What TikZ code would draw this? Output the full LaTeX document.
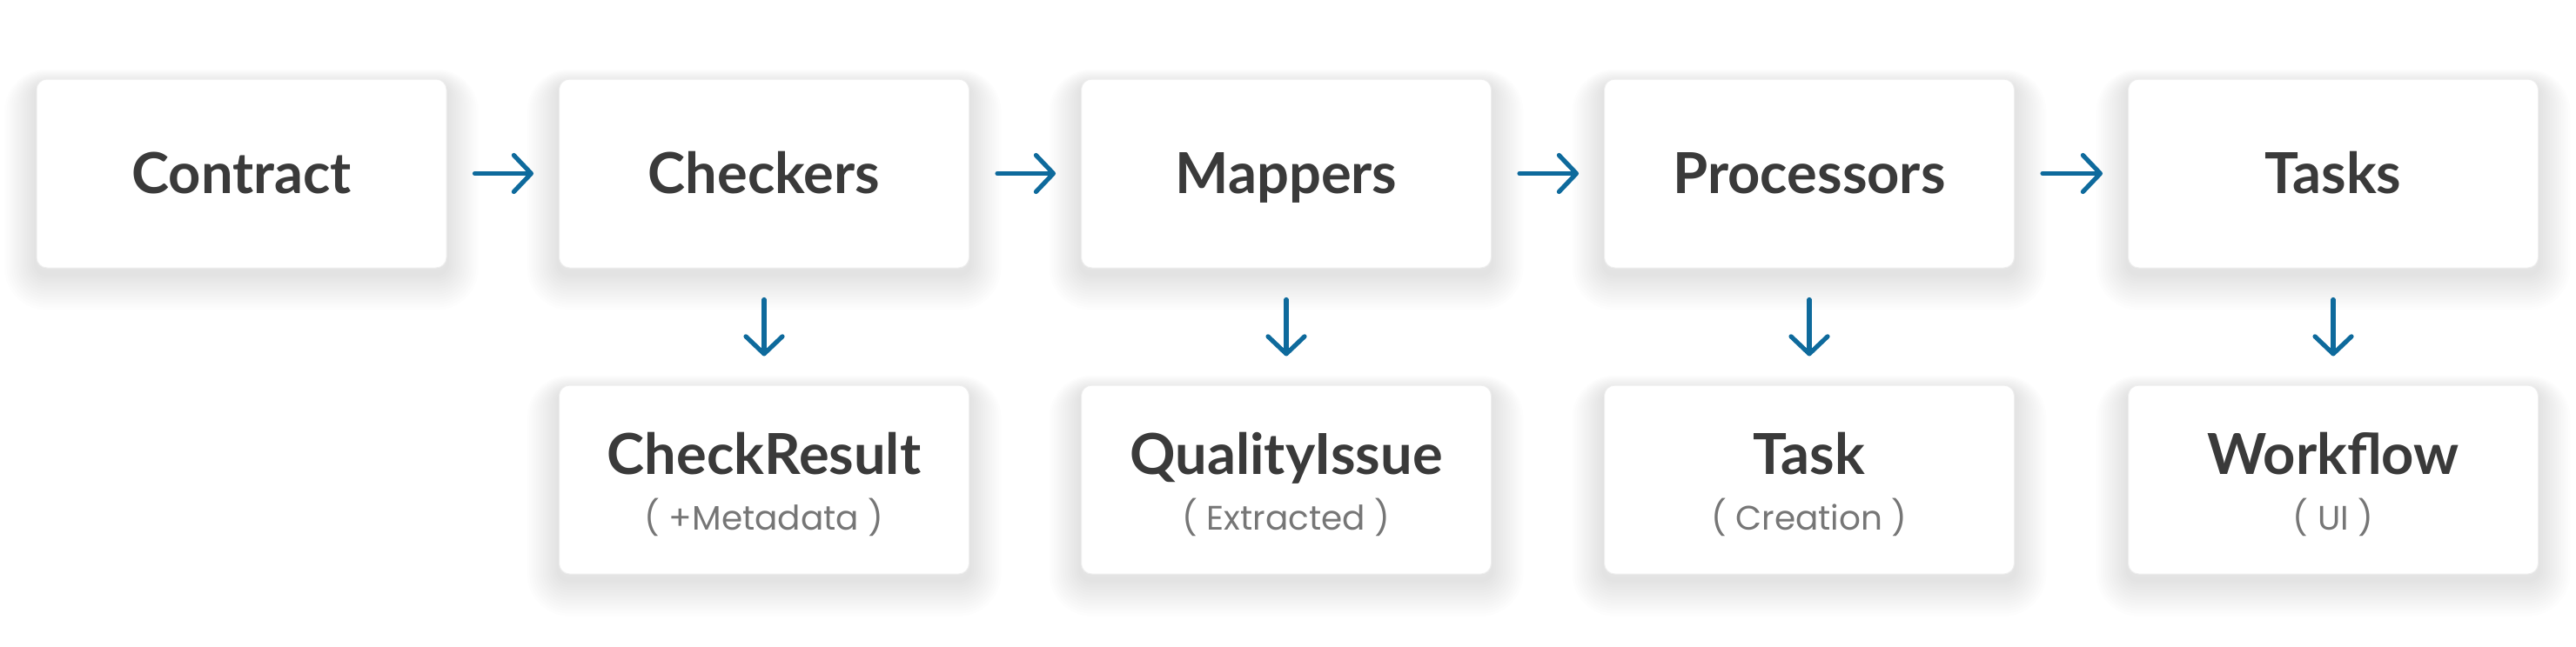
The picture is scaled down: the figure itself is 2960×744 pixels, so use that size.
\documentclass[tikz,border=0pt]{standalone}
\usepackage{fontspec}
\setmainfont{Lato}
\newfontfamily\subfont{Poppins}
\usetikzlibrary{arrows.meta,backgrounds}
\definecolor{arrowblue}{HTML}{0E6A9C}
\definecolor{titlegray}{HTML}{3A3A3A}
\definecolor{subgray}{HTML}{767676}
\definecolor{edgegray}{HTML}{EEEEEE}
\definecolor{bottomgray}{HTML}{E4E4E4}
\tikzset{
  card/.style={rectangle, rounded corners=6pt, fill=white, draw=edgegray, line width=0.5pt,
    minimum width=235.5pt, minimum height=108.5pt, inner sep=0pt},
  cardbase/.style={fill=bottomgray, rounded corners=6pt},
  shadowlayer/.style={fill=black, opacity=0.008},
  title/.style={text=titlegray, font=\fontsize{32.5}{36}\selectfont\bfseries, anchor=base, inner sep=0pt},
  sub/.style={text=subgray, font=\subfont\fontsize{19.5}{22}\selectfont, anchor=base, inner sep=0pt},
  flow/.style={draw=arrowblue, line width=2.6pt, line cap=round,
    -{Straight Barb[length=10pt,width=21pt,round]}},
  hflow/.style={flow, shorten <=16pt, shorten >=14.5pt},
  vflow/.style={flow, shorten <=18pt, shorten >=16.5pt},
}
\begin{document}
\begin{tikzpicture}[x=0.5pt,y=-0.5pt]
\useasboundingbox (0,0) rectangle (2960,744);
% top row
\node[card] (contract) at (277.5,199.5) {};
\node[card] (checkers) at (878,199.5) {};
\node[card] (mappers) at (1478,199.5) {};
\node[card] (processors) at (2079,199.5) {};
\node[card] (tasks) at (2681,199.5) {};
% bottom row
\node[card] (checkresult) at (878,551.5) {};
\node[card] (qualityissue) at (1478,551.5) {};
\node[card] (task) at (2079,551.5) {};
\node[card] (workflow) at (2681,551.5) {};
% shadows
\begin{scope}[on background layer]
\fill[white] (0,0) rectangle (2960,744);
\foreach \n in {contract,checkers,mappers,processors,tasks,checkresult,qualityissue,task,workflow}{
  \foreach \k in {1,...,14}{
    \pgfmathsetmacro\r{6+\k*1.3}
    \pgfmathsetmacro\dx{\k*1.3}
    \pgfmathsetmacro\dyb{-3-\k*1.5}
    \pgfmathsetmacro\dyt{-3+\k*0.6}
    \fill[shadowlayer, rounded corners=\r pt]
      ([xshift=-\dx pt, yshift=\dyb pt]\n.south west) rectangle ([xshift=\dx pt, yshift=\dyt pt]\n.north east);
  }
  \fill[cardbase] ([yshift=-1.6pt]\n.south west) rectangle ([yshift=-1.6pt]\n.north east);
}
\end{scope}
% top titles
\node[title] (contract-t) at ([yshift=-11.25pt]contract.center) {Contract};
\node[title] (checkers-t) at ([yshift=-11.25pt]checkers.center) {Checkers};
\node[title] (mappers-t) at ([yshift=-11.25pt]mappers.center) {Mappers};
\node[title] (processors-t) at ([yshift=-11.25pt]processors.center) {Processors};
\node[title] (tasks-t) at ([yshift=-11.25pt]tasks.center) {Tasks};
% bottom titles
\node[title] (checkresult-t) at ([yshift=3.25pt]checkresult.center) {CheckResult};
\node[sub] (checkresult-s) at ([yshift=-28.75pt]checkresult.center) {( +Metadata )};
\node[title] (qualityissue-t) at ([yshift=3.25pt]qualityissue.center) {QualityIssue};
\node[sub] (qualityissue-s) at ([yshift=-28.75pt]qualityissue.center) {( Extracted )};
\node[title] (task-t) at ([yshift=3.25pt]task.center) {Task};
\node[sub] (task-s) at ([yshift=-28.75pt]task.center) {( Creation )};
\node[title] (workflow-t) at ([yshift=3.25pt]workflow.center) {Workflow};
\node[sub] (workflow-s) at ([yshift=-28.75pt]workflow.center) {( UI )};
% arrows
\draw[hflow] (contract.east) -- (checkers.west);
\draw[hflow] (checkers.east) -- (mappers.west);
\draw[hflow] (mappers.east) -- (processors.west);
\draw[hflow] (processors.east) -- (tasks.west);
\draw[vflow] (checkers.south) -- (checkresult.north);
\draw[vflow] (mappers.south) -- (qualityissue.north);
\draw[vflow] (processors.south) -- (task.north);
\draw[vflow] (tasks.south) -- (workflow.north);
\end{tikzpicture}
\end{document}
